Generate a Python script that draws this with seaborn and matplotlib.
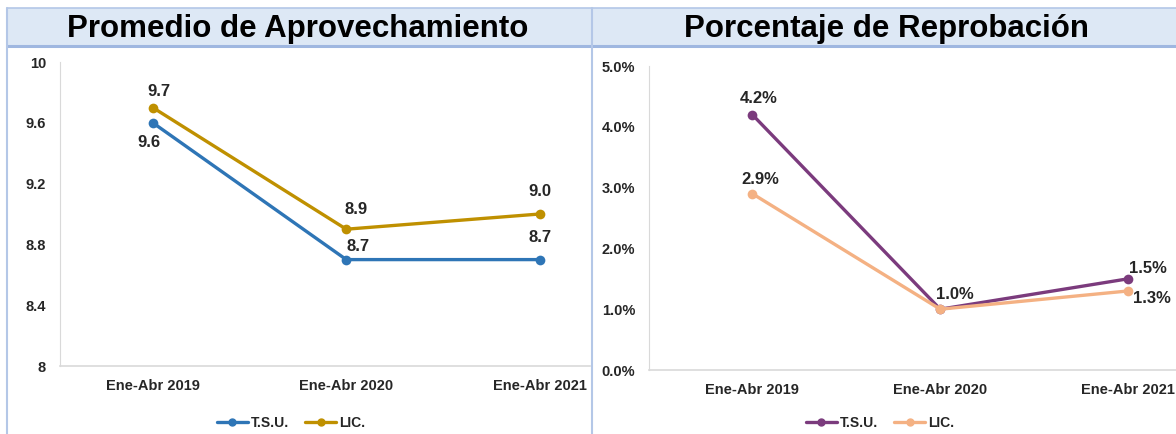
import pandas as pd
import matplotlib.pyplot as plt
import matplotlib.patches as patches
import seaborn as sns

# ----------------------------
# Data
# ----------------------------

periods = ["Ene-Abr 2019", "Ene-Abr 2020", "Ene-Abr 2021"]
series = ["T.S.U.", "LIC."]

prom_tsu = [9.6, 8.7, 8.7]
prom_lic = [9.7, 8.9, 9.0]

repr_tsu = [4.2, 1.0, 1.5]
repr_lic = [2.9, 1.0, 1.3]

prom_ticks = [8, 8.4, 8.8, 9.2, 9.6, 10]
repr_ticks = [0, 1, 2, 3, 4, 5]

prom = pd.DataFrame({
    "periodo": periods * 2,
    "nivel": [series[0]] * 3 + [series[1]] * 3,
    "valor": prom_tsu + prom_lic,
})
repr_df = pd.DataFrame({
    "periodo": periods * 2,
    "nivel": [series[0]] * 3 + [series[1]] * 3,
    "valor": repr_tsu + repr_lic,
})
prom["x"] = prom["periodo"].map({p: i for i, p in enumerate(periods)})
repr_df["x"] = repr_df["periodo"].map({p: i for i, p in enumerate(periods)})

sns.set_style("white")
plt.rcParams["font.family"] = ["Liberation Sans Narrow", "Liberation Sans", "DejaVu Sans"]

W, H = 1176, 434
fig = plt.figure(figsize=(W / 100, H / 100), dpi=100)


def fx(px):
    return px / W


def fy(py):
    return 1 - py / H


# ----------------------------
# Header band and borders
# ----------------------------

band = patches.Rectangle((fx(7), fy(46)), fx(1176 - 7), fy(8) - fy(46),
                         transform=fig.transFigure, facecolor="#dde8f5",
                         edgecolor="none", zorder=0)
fig.patches.append(band)
for y, lw, c in [(8, 1.2, "#b4c7e7"), (46, 2.2, "#9fb7e0")]:
    fig.add_artist(plt.Line2D([fx(7), 1], [fy(y), fy(y)], transform=fig.transFigure,
                              color=c, lw=lw))
for x in [7, 592]:
    fig.add_artist(plt.Line2D([fx(x), fx(x)], [fy(8), 0], transform=fig.transFigure,
                              color="#b4c7e7", lw=1.5))

fig.text(fx(298), fy(29), "Promedio de Aprovechamiento", ha="center", va="center",
         fontsize=22.5, fontweight="bold", color="black",
         family=["Liberation Sans", "DejaVu Sans"])
fig.text(fx(886), fy(29), "Porcentaje de Reprobación", ha="center", va="center",
         fontsize=22.5, fontweight="bold", color="black",
         family=["Liberation Sans", "DejaVu Sans"])


def style_axes(ax, ticks, fmt, xlim):
    ax.set_xlim(*xlim)
    ax.set_ylim(ticks[0], ticks[-1])
    ax.set_yticks(ticks)
    ax.set_yticklabels([fmt(t) for t in ticks])
    ax.set_xticks(range(len(periods)))
    ax.set_xticklabels(periods)
    ax.set_xlabel("")
    ax.set_ylabel("")
    for s in ["top", "right"]:
        ax.spines[s].set_visible(False)
    ax.spines["left"].set_color("#d9d9d9")
    ax.spines["bottom"].set_color("#d9d9d9")
    ax.spines["bottom"].set_linewidth(1.2)
    ax.tick_params(axis="both", length=0, labelsize=10.5, colors="#262626")
    ax.tick_params(axis="y", pad=10)
    ax.tick_params(axis="x", pad=9)
    for lab in ax.get_xticklabels() + ax.get_yticklabels():
        lab.set_fontweight("bold")
    ax.patch.set_alpha(0)


def label(ax, x, y, text, dx, dy):
    ax.annotate(text, (x, y), xytext=(dx * 0.72, dy * 0.72), textcoords="offset points",
                ha="center", va="center", fontsize=12, fontweight="bold",
                color="#262626", annotation_clip=False)


# ----------------------------
# Promedio de Aprovechamiento
# ----------------------------

ax1 = fig.add_axes([fx(60), fy(366), fx(590 - 60), fy(62) - fy(366)])
sns.lineplot(data=prom, x="x", y="valor", hue="nivel", palette=["#2e75b6", "#bf9000"],
             marker="o", markersize=7, markeredgewidth=0, linewidth=2.4, ax=ax1,
             legend=False)
style_axes(ax1, prom_ticks, lambda t: f"{t:g}", (-0.48, 2.26))

offs_tsu = [(-4, -20), (12, 13), (0, 22)]
offs_lic = [(6, 16), (10, 20), (0, 22)]
for i in range(3):
    label(ax1, i, prom_tsu[i], f"{prom_tsu[i]:.1f}", *offs_tsu[i])
    label(ax1, i, prom_lic[i], f"{prom_lic[i]:.1f}", *offs_lic[i])

h1 = [plt.Line2D([], [], color=c, marker="o", markersize=5, lw=2.4) for c in ["#2e75b6", "#bf9000"]]
fig.legend(h1, series, loc="center", bbox_to_anchor=(fx(291), fy(423)), ncol=2, frameon=False,
           handlelength=2.2, handletextpad=0.2, columnspacing=1.2,
           prop={"size": 10, "weight": "bold"})

# ----------------------------
# Porcentaje de Reprobación
# ----------------------------

ax2 = fig.add_axes([fx(649), fy(370), fx(1176 - 649), fy(66) - fy(370)])
sns.lineplot(data=repr_df, x="x", y="valor", hue="nivel", palette=["#7b3b7d", "#f4b183"],
             marker="o", markersize=7, markeredgewidth=0, linewidth=2.4, ax=ax2,
             legend=False)
style_axes(ax2, repr_ticks, lambda t: f"{t:.1f}%", (-0.55, 2.255))

label(ax2, 0, repr_tsu[0], f"{repr_tsu[0]:.1f}%", 6, 16)
label(ax2, 0, repr_lic[0], f"{repr_lic[0]:.1f}%", 8, 14)
label(ax2, 1, repr_tsu[1], f"{repr_tsu[1]:.1f}%", 15, 15)
label(ax2, 2, repr_tsu[2], f"{repr_tsu[2]:.1f}%", 20, 10)
label(ax2, 2, repr_lic[2], f"{repr_lic[2]:.1f}%", 24, -8)

h2 = [plt.Line2D([], [], color=c, marker="o", markersize=5, lw=2.4) for c in ["#7b3b7d", "#f4b183"]]
fig.legend(h2, series, loc="center", bbox_to_anchor=(fx(880), fy(423)), ncol=2, frameon=False,
           handlelength=2.2, handletextpad=0.2, columnspacing=1.2,
           prop={"size": 10, "weight": "bold"})

fig.savefig("out.png", dpi=100)
plt.close(fig)
